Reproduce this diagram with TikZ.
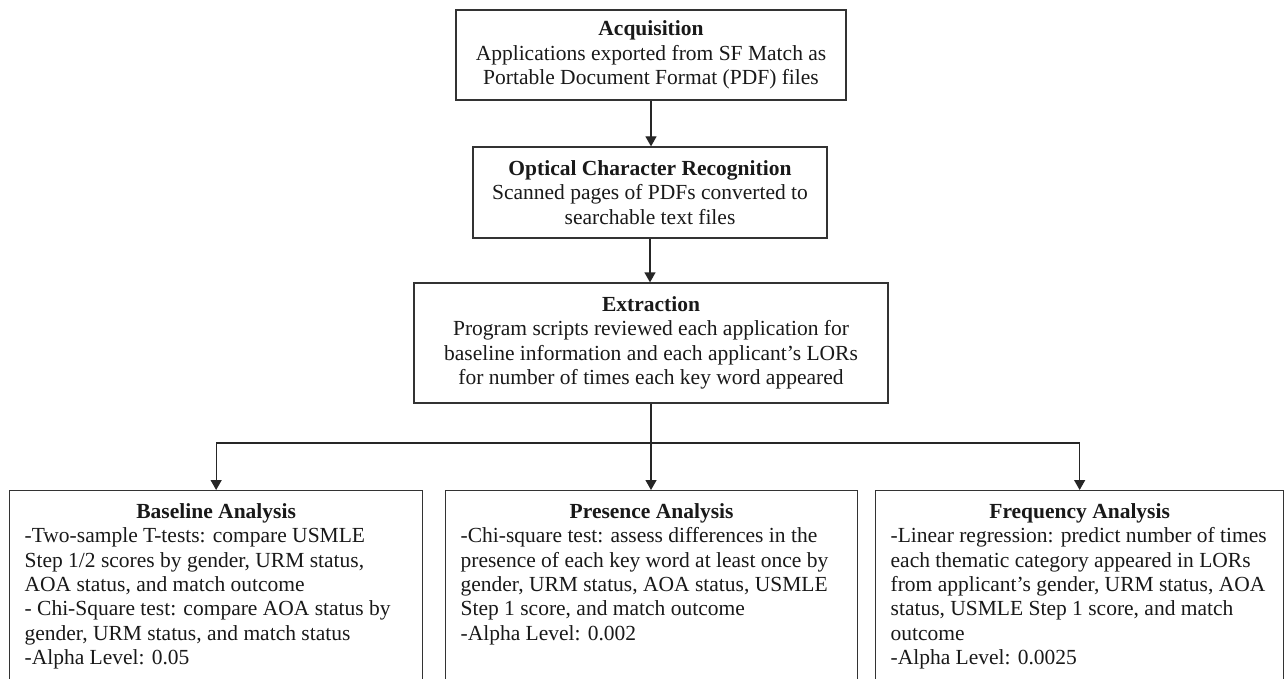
\documentclass[tikz,border=0pt]{standalone}
\usepackage{fontspec}
\setmainfont{Liberation Serif}
\usetikzlibrary{arrows.meta}
\begin{document}
\begin{tikzpicture}[x=1pt,y=-1pt,
  box/.style={draw=black!80, line width=1.3pt, align=center, inner sep=0pt,
    font=\fontsize{21.5}{24.4}\selectfont, text=black!90},
  lowbox/.style={draw=black!80, line width=1.3pt, anchor=north west, inner xsep=15pt, inner ysep=13pt,
    font=\fontsize{21.5}{24.3}\selectfont, text=black!90},
  conn/.style={line width=1.3pt, draw=black!85},
  arr/.style={conn, -{Triangle[width=11pt,length=10pt]}},
  ]
\useasboundingbox (0,0) rectangle (1284,679);
\fill[white] (0,0) rectangle (1284,679);
\clip (0,0) rectangle (1284,679);

\node[box, minimum width=390pt, minimum height=90pt] (acq) at (651,55)
  {\textbf{Acquisition}\\Applications exported from SF Match as\\Portable Document Format (PDF) files};
\node[box, minimum width=354pt, minimum height=91pt] (ocr) at (650,192.5)
  {\textbf{Optical Character Recognition}\\Scanned pages of PDFs converted to\\searchable text files};
\node[box, minimum width=474pt, minimum height=120pt] (ext) at (651,343)
  {\textbf{Extraction}\\Program scripts reviewed each application for\\baseline information and each applicant's LORs\\for number of times each key word appeared};

\node[lowbox] (base) at (9,490)
  {\begin{minipage}[t][240pt][t]{383pt}\raggedright
   \makebox[\linewidth]{\textbf{Baseline Analysis}}\\
   -Two-sample T-tests: compare USMLE\\
   Step 1/2 scores by gender, URM status,\\
   AOA status, and match outcome\\
   - Chi-Square test: compare AOA status by\\
   gender, URM status, and match status\\
   -Alpha Level: 0.05
   \end{minipage}};
\node[lowbox] (pres) at (445,490)
  {\begin{minipage}[t][240pt][t]{382pt}\raggedright
   \makebox[\linewidth]{\textbf{Presence Analysis}}\\
   -Chi-square test: assess differences in the\\
   presence of each key word at least once by\\
   gender, URM status, AOA status, USMLE\\
   Step 1 score, and match outcome\\
   -Alpha Level: 0.002
   \end{minipage}};
\node[lowbox] (freq) at (875,490)
  {\begin{minipage}[t][240pt][t]{378pt}\raggedright
   \makebox[\linewidth]{\textbf{Frequency Analysis}}\\
   -Linear regression: predict number of times\\
   each thematic category appeared in LORs\\
   from applicant's gender, URM status, AOA\\
   status, USMLE Step 1 score, and match\\
   outcome\\
   -Alpha Level: 0.0025
   \end{minipage}};

\coordinate (j) at (651,443);
\draw[arr] (acq.south) -- (acq.south |- ocr.north);
\draw[arr] (ocr.south) -- (ocr.south |- ext.north);
\draw[conn] (ext.south) -- (j);
\draw[arr] (j) -- (j |- pres.north);
\draw[arr] (j) -| (base.north);
\draw[arr] (j) -| (freq.north);
\end{tikzpicture}
\end{document}
